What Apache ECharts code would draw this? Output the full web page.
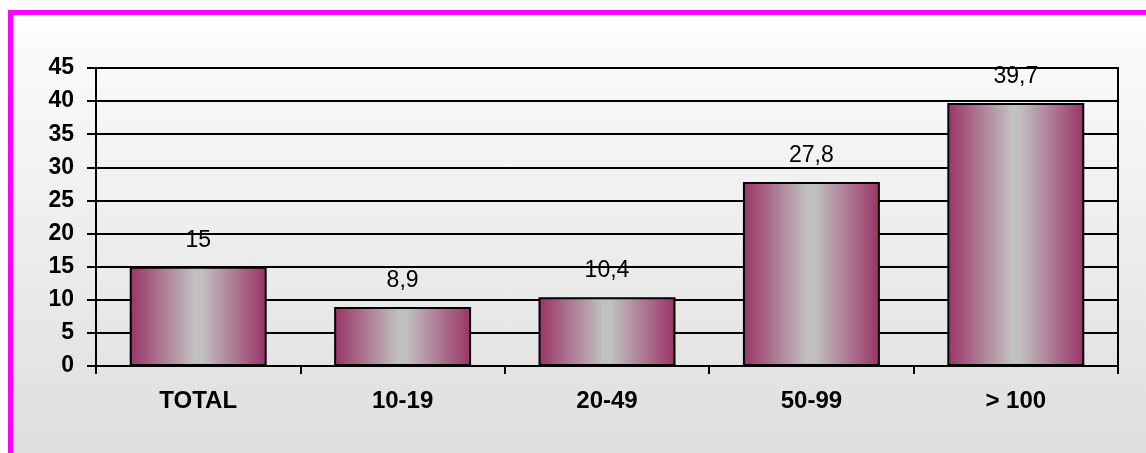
<!DOCTYPE html>
<html>
<head>
<meta charset="utf-8">
<script src="https://cdn.jsdelivr.net/npm/echarts@6/dist/echarts.min.js"></script>
<style>
html,body{margin:0;padding:0;background:#fff;overflow:hidden;}
#frame{position:absolute;left:8px;top:10px;width:1160px;height:470px;box-sizing:border-box;border-left:5px solid #ff00ff;border-top:5px solid #ff00ff;background:linear-gradient(to bottom,#fdfdfd 0%,#dcdcdc 100%);}
#chart{position:absolute;left:0;top:0;width:1146px;height:453px;}
</style>
</head>
<body>
<div id="frame"></div>
<div id="chart"></div>
<script>
const categories = ['TOTAL', '10-19', '20-49', '50-99', '> 100'];
const values = [15, 8.9, 10.4, 27.8, 39.7];
const yMin = 0, yMax = 45, yStep = 5;

const font = "'Liberation Sans', Arial, sans-serif";
const chart = echarts.init(document.getElementById('chart'), null, {renderer: 'canvas'});
chart.setOption({
  backgroundColor: 'transparent',
  animation: false,
  grid: {left: 96, right: 28, top: 68, bottom: 87, show: true, borderColor: '#000', borderWidth: 2, backgroundColor: 'transparent'},
  xAxis: {
    type: 'category',
    data: categories,
    axisLine: {lineStyle: {color: '#000', width: 2}},
    axisTick: {show: true, length: 8, lineStyle: {color: '#000', width: 2}},
    axisLabel: {color: '#000', fontWeight: 'bold', fontSize: 24, fontFamily: font, margin: 23}
  },
  yAxis: {
    type: 'value',
    min: yMin, max: yMax, interval: yStep,
    axisLine: {show: true, lineStyle: {color: '#000', width: 2}},
    axisTick: {show: true, length: 9, lineStyle: {color: '#000', width: 2}},
    splitLine: {show: true, lineStyle: {color: '#000', width: 2}},
    axisLabel: {color: '#000', fontWeight: 'bold', fontSize: 23, fontFamily: font, margin: 22}
  },
  series: [{
    type: 'bar',
    data: values,
    barWidth: '67%',
    itemStyle: {
      borderColor: '#000', borderWidth: 2,
      color: {type: 'linear', x: 0, y: 0, x2: 1, y2: 0, colorStops: [
        {offset: 0, color: '#993366'},
        {offset: 0.47, color: '#c0c0c0'},
        {offset: 0.53, color: '#c0c0c0'},
        {offset: 1, color: '#993366'}
      ]}
    },
    label: {
      show: true, position: 'top', distance: 15,
      color: '#000', fontSize: 23, fontFamily: font,
      formatter: p => String(p.value).replace('.', ',')
    }
  }]
});
</script>
</body>
</html>
